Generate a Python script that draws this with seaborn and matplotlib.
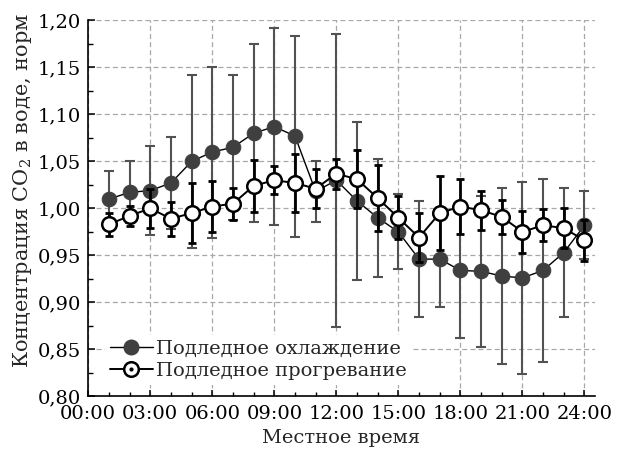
import matplotlib
matplotlib.use("Agg")
import matplotlib.pyplot as plt
from matplotlib.lines import Line2D
from matplotlib.ticker import MultipleLocator, FuncFormatter
import seaborn as sns

# ------------------------------------------------------------
# Data
# ------------------------------------------------------------
hours = list(range(1, 25))
hour_ticks = [0, 3, 6, 9, 12, 15, 18, 21, 24]
hour_labels = ["00:00", "03:00", "06:00", "09:00", "12:00", "15:00", "18:00", "21:00", "24:00"]

cooling = [1.010, 1.017, 1.019, 1.027, 1.050, 1.060, 1.065, 1.080, 1.087, 1.077, 1.018, 1.030,
           1.008, 0.990, 0.975, 0.946, 0.946, 0.934, 0.933, 0.928, 0.926, 0.934, 0.953, 0.982]
cooling_err = [0.030, 0.033, 0.047, 0.049, 0.092, 0.091, 0.077, 0.095, 0.105, 0.107, 0.032, 0.156,
               0.084, 0.063, 0.040, 0.062, 0.051, 0.072, 0.080, 0.094, 0.102, 0.097, 0.069, 0.036]

warming = [0.983, 0.992, 1.000, 0.989, 0.995, 1.002, 1.005, 1.024, 1.030, 1.027, 1.021, 1.037,
           1.031, 1.011, 0.990, 0.969, 0.995, 1.002, 0.998, 0.991, 0.975, 0.982, 0.979, 0.966]
warming_err = [0.012, 0.011, 0.021, 0.018, 0.032, 0.027, 0.017, 0.028, 0.015, 0.031, 0.021, 0.016,
               0.031, 0.035, 0.023, 0.026, 0.039, 0.029, 0.021, 0.018, 0.022, 0.017, 0.021, 0.022]

label_cooling = "Подледное охлаждение"
label_warming = "Подледное прогревание"

# ------------------------------------------------------------
# Style
# ------------------------------------------------------------
sns.set_theme(style="ticks")
plt.rcParams["font.family"] = ["DejaVu Serif"]
plt.rcParams["mathtext.fontset"] = "dejavuserif"
plt.rcParams["mathtext.default"] = "regular"
plt.rcParams["font.size"] = 14

dark = "#3f3f3f"
gray_bar = "#525252"

fig, ax = plt.subplots(figsize=(6.17, 4.55), dpi=100)
fig.subplots_adjust(left=0.143, right=0.964, top=0.955, bottom=0.129)

# ------------------------------------------------------------
# Series
# ------------------------------------------------------------
ax.errorbar(hours, cooling, yerr=cooling_err, fmt="none", ecolor=gray_bar,
            elinewidth=1.5, capsize=3.6, capthick=1.5, zorder=2)
sns.lineplot(x=hours, y=cooling, ax=ax, color="black", linewidth=1.0,
             marker="o", markersize=10.5, markerfacecolor=dark, markeredgecolor=dark,
             zorder=3, legend=False)

ax.errorbar(hours, warming, yerr=warming_err, fmt="none", ecolor="black",
            elinewidth=2.0, capsize=3.0, capthick=2.0, zorder=4)
sns.lineplot(x=hours, y=warming, ax=ax, color="black", linewidth=1.4,
             marker="o", markersize=10.5, markerfacecolor="white", markeredgecolor="black",
             markeredgewidth=1.8, zorder=5, legend=False)

# ------------------------------------------------------------
# Axes
# ------------------------------------------------------------
ax.set_xlim(0, 24.5)
ax.set_ylim(0.80, 1.20)
ax.set_xticks(hour_ticks)
ax.set_xticklabels(hour_labels)
ax.xaxis.set_minor_locator(MultipleLocator(1))
ax.yaxis.set_major_locator(MultipleLocator(0.05))
ax.yaxis.set_minor_locator(MultipleLocator(0.025))
ax.yaxis.set_major_formatter(FuncFormatter(lambda v, _: f"{v:.2f}".replace(".", ",")))

ax.tick_params(axis="both", which="both", direction="in", colors="black", labelsize=14)
ax.tick_params(axis="y", which="major", length=5, width=1.1, pad=5)
ax.tick_params(axis="y", which="minor", length=3.5, width=1.0)
ax.tick_params(axis="x", which="major", length=4.5, width=1.1, pad=6)
ax.tick_params(axis="x", which="minor", length=3, width=1.0)

for side in ["top", "right"]:
    ax.spines[side].set_visible(False)
for side in ["left", "bottom"]:
    ax.spines[side].set_linewidth(1.2)
    ax.spines[side].set_color("black")

ax.grid(True, which="major", color="#a8a8a8", linestyle=(0, (4, 2.5)), linewidth=0.9)
ax.set_axisbelow(True)

ax.set_xlabel("Местное время", fontsize=14)
ax.set_ylabel("Концентрация CO$_2$ в воде, норм", fontsize=15)
ax.xaxis.set_label_coords(0.5, -0.088)
ax.yaxis.set_label_coords(-0.108, 0.549)

# ------------------------------------------------------------
# Legend
# ------------------------------------------------------------
h_cool = Line2D([], [], color="black", linewidth=1.0, marker="o", markersize=10.5,
                markerfacecolor=dark, markeredgecolor=dark)
h_warm = Line2D([], [], color="black", linewidth=1.4, marker="o", markersize=10.5,
                markerfacecolor="white", markeredgecolor="black", markeredgewidth=1.8)
h_dot = Line2D([], [], linestyle="none", marker="o", markersize=2, color="black")
leg = ax.legend([h_cool, (h_warm, h_dot)], [label_cooling, label_warming],
                loc="lower left", bbox_to_anchor=(0.033, 0.03), borderaxespad=0,
                borderpad=0.25, labelspacing=0.2, handlelength=2.2, handletextpad=0.2,
                frameon=True, fancybox=False, framealpha=1, edgecolor="none",
                facecolor="white", fontsize=14)
leg.set_zorder(6)

fig.savefig("out.png", dpi=100)
